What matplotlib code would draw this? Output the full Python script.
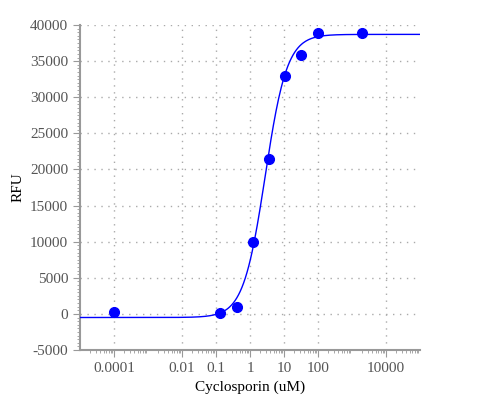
import matplotlib
matplotlib.use('Agg')
import matplotlib.pyplot as plt
from matplotlib.ticker import FixedLocator, NullFormatter, MultipleLocator, LogLocator
import numpy as np

# measured points
conc = [0.0001, 0.13, 0.41, 1.22, 3.6, 11, 32.5, 98, 1950]
rfu = [200, 150, 1000, 10000, 21400, 32900, 35900, 38900, 38900]

# 4-parameter logistic fit
bottom, top, ec50, hill = -500, 38700, 2.8, 1.35

xticks = [0.0001, 0.01, 0.1, 1, 10, 100, 10000]
xlabels = ['0.0001', '0.01', '0.1', '1', '10', '100', '10000']

plt.rcParams['font.family'] = ['Liberation Serif', 'DejaVu Serif']
plt.rcParams['axes.unicode_minus'] = False

fig = plt.figure(figsize=(5, 4), dpi=100)
ax = fig.add_axes([0.16, 0.125, 0.68, 0.8125])

xs = np.logspace(-5, 5, 400)
ax.plot(xs, bottom + (top - bottom) / (1 + (ec50 / xs) ** hill), color='#0000ff', lw=1, zorder=3)
ax.plot(conc, rfu, 'o', color='#0000ff', ms=7, zorder=4)

ax.set_xscale('log')
ax.set_xlim(1e-5, 1e5)
ax.set_ylim(-5000, 40000)
ax.xaxis.set_major_locator(FixedLocator(xticks))
ax.set_xticklabels(xlabels)
ax.xaxis.set_minor_locator(LogLocator(base=10, subs=np.arange(2, 10), numticks=20))
ax.xaxis.set_minor_formatter(NullFormatter())
ax.yaxis.set_major_locator(MultipleLocator(5000))
ax.yaxis.set_minor_locator(MultipleLocator(500))

ax.grid(True, which='major', color='#aaaaaa', linestyle=(0, (1, 4)), lw=1)
for s in ['top', 'right']:
    ax.spines[s].set_visible(False)
for s in ['left', 'bottom']:
    ax.spines[s].set_color('#999999')
    ax.spines[s].set_linewidth(1.5)
ax.tick_params(which='major', length=5, color='#999999', labelcolor='#555555', labelsize=11)
ax.tick_params(which='minor', length=2.5, color='#999999')

ax.set_xlabel('Cyclosporin (uM)', fontsize=11)
ax.set_ylabel('RFU', fontsize=11)

fig.savefig('out.png', dpi=100)
